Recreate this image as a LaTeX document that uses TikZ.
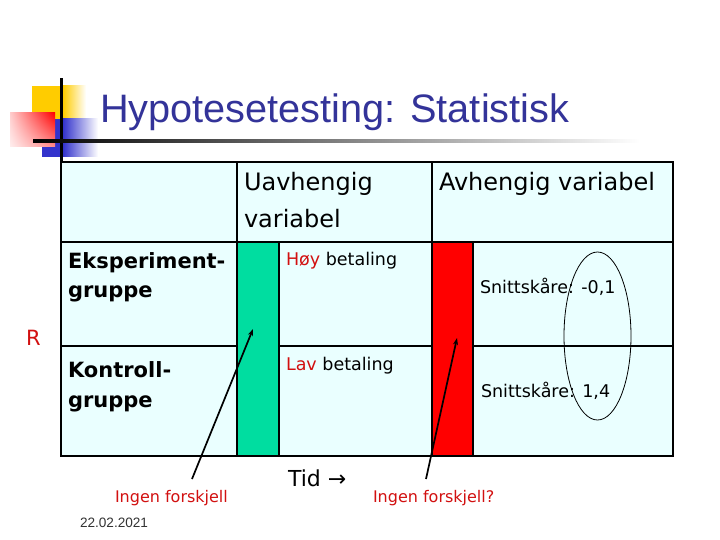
\documentclass[tikz,border=0pt]{standalone}
\usepackage{fontspec}
\setmainfont{DejaVu Sans}
\newfontfamily\arialf{Liberation Sans}
\usetikzlibrary{arrows.meta,shadings}
\definecolor{cellbg}{RGB}{234,255,255}
\definecolor{barg}{RGB}{0,221,160}
\definecolor{txtred}{RGB}{210,16,16}
\definecolor{titleblue}{RGB}{51,51,153}
\definecolor{sqyellow}{RGB}{255,204,0}
\definecolor{sqblue}{RGB}{51,51,204}
\definecolor{datec}{RGB}{51,51,51}
\definecolor{pinkA}{RGB}{255,205,205}
\definecolor{pinkB}{RGB}{255,238,238}
\definecolor{pinkC}{RGB}{255,140,140}
\begin{document}
\begin{tikzpicture}[x=1pt,y=-1pt,
  lbl/.style={anchor=base west, inner sep=0pt, outer sep=0pt},
  hdr/.style={lbl, font=\fontsize{24}{36}\selectfont},
  grp/.style={lbl, font=\bfseries\fontsize{21}{29}\selectfont},
  small/.style={lbl, font=\fontsize{17.5}{21}\selectfont},
  note/.style={lbl, font=\fontsize{16}{19}\selectfont, text=txtred},
  tblline/.style={line width=2.2pt, line cap=rect},
  conn/.style={line width=1.7pt, -{Stealth[length=7pt,width=5pt]}}]
\fill[white] (0,0) rectangle (720,540);
\useasboundingbox (0,0) rectangle (720,540);
% title decoration
\fill[sqyellow] (32,86) rectangle (63,135);
\shade[left color=sqyellow, right color=white] (63,86) rectangle (86,135);
\fill[sqblue] (42,119) rectangle (63,157);
\shade[left color=sqblue, right color=white] (63,119) rectangle (98,157);
\shade[upper left=pinkA, upper right=red, lower left=pinkB, lower right=pinkC] (10,113) rectangle (55,147);
\fill[black] (59.5,78) rectangle (62.5,163);
\shade[left color=black, right color=white] (33,139.5) rectangle (640,142.5);
\node[lbl, font=\arialf\fontsize{39.7}{44}\selectfont, text=titleblue] (title) at (100,123) {Hypotesetesting: Statistisk};
% table
\fill[cellbg] (61,162) rectangle (673,456);
\fill[barg] (237,242) rectangle (279,456);
\fill[red] (432,242) rectangle (473,456);
\draw[tblline] (61,242) -- (673,242);
\draw[tblline] (237,162) -- (237,456);
\draw[tblline] (279,242) -- (279,456);
\draw[tblline] (432,162) -- (432,456);
\draw[tblline] (473,242) -- (473,456);
\draw[tblline] (61,346) -- (237,346);
\draw[tblline] (279,346) -- (432,346);
\draw[tblline] (473,346) -- (673,346);
\draw[line width=2.6pt] (61,162) rectangle (673,456);
% texts
\node[hdr] (uav) at (244,191) {\begin{tabular}[t]{@{}l@{}}Uavhengig\\variabel\end{tabular}};
\node[hdr] (avh) at (439,191) {Avhengig variabel};
\node[grp] (eks) at (68,268) {\begin{tabular}[t]{@{}l@{}}Eksperiment-\\gruppe\end{tabular}};
\node[grp, font=\bfseries\fontsize{21}{30}\selectfont] (kon) at (68,377) {\begin{tabular}[t]{@{}l@{}}Kontroll-\\gruppe\end{tabular}};
\node[small] (hoy) at (286,265) {\textcolor{txtred}{Høy} betaling};
\node[small] (lav) at (286,370) {\textcolor{txtred}{Lav} betaling};
\node[small] (s1) at (480,293) {Snittskåre: -0,1};
\node[small] (s2) at (481,397) {Snittskåre: 1,4};
\node[lbl, font=\fontsize{21}{25}\selectfont, text=txtred] (r) at (26,345) {R};
\node[lbl, font=\fontsize{22}{26}\selectfont] (tid) at (288,486) {Tid →};
\node[note] (if1) at (115,502) {Ingen forskjell};
\node[note] (if2) at (373,502) {Ingen forskjell?};
\node[lbl, font=\arialf\fontsize{13.6}{16}\selectfont, text=datec] (date) at (80,527) {22.02.2021};
% ellipse
\draw[line width=0.8pt] (597.5,336) ellipse [x radius=33.5, y radius=84];
% arrows
\coordinate (t1) at (192,479);
\coordinate (h1) at (253,329);
\coordinate (t2) at (426,479);
\coordinate (h2) at (457,338);
\draw[conn] (t1) -- (h1);
\draw[conn] (t2) -- (h2);
\end{tikzpicture}
\end{document}
